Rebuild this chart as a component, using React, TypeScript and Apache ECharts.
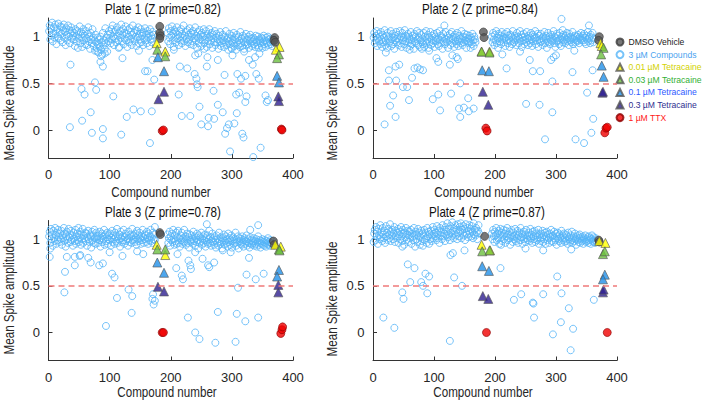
import React, { useEffect, useRef } from "react";
import * as echarts from "echarts";

// Values are in hundredths of "Mean Spike amplitude" (divided by 100 when building series)
// Dense band of compounds: segment A starts at compound 1, segment B starts at compound 195
const p1BandA = [106,112,97,109,101,115,95,104,110,99,113,103,92,108,100,114,98,105,111,96,
103,110,94,107,113,99,105,91,109,102,96,112,100,107,93,104,110,98,106,101,
97,104,90,108,100,95,106,88,102,98,111,93,105,99,89,103,108,96,101,92,
106,98,91,103,110,95,100,87,104,97,93,108,99,90,96,85,102,94,88,99,
92,83,97,89,100,86,94,81,104,91,96,87,109,93,99,84,102,95,106,98,
103,93,108,97,112,100,91,105,98,107,94,110,101,96,104,89,106,99,113,95,
102,108,92,104,98,111,96,103,89,107,100,94,109,97,105,91,102,112,98,104,
95,107,100,90,106,99,110,93,103,97,108,94,101,105,91,104,98,109,96,102,
93,106,99,103,90,108,97,101,94,105,98,102];
const p1BandB = [104,95,109,99,92,106,101,111,96,103,89,107,99,105,94,110,98,102,91,106,
100,96,108,93,103,99,112,95,101,90,105,98,107,94,102,97,109,92,104,100,
95,106,91,103,98,110,96,101,88,105,99,93,107,97,102,90,104,96,100,108,
93,101,97,106,89,103,95,99,108,92,100,96,104,88,102,98,94,106,91,99,
103,94,97,87,101,95,105,90,98,93,102,96,89,100,94,106,91,97,99,86,
95,103,92,98,88,101,96,93,104,90,97,99,86,102,94,91,100,96,89,105,
93,98,90,101,95,87,99,94,103,91,97,92,100,88,96,102,93,98,90,95,
99,92,97,89,101,94,96,91,100,88,97,95,93,99,
90,98,94,101,92,96,89,99,95,93,100,91,97,94,98,92,96,90,95,97];
const p1Outliers = [[36,70],[35,3],[54,44],[59,38],[55,10],[69,19],[71,-3],[76,51],[78,43],[89,1],[89,-9],[85,73],[89,68],[86,79],[92,82],[80,84],[106,36],[119,-5],[121,77],[128,14],[139,22],[151,20],[158,63],[162,63],[166,-14],[169,20],[173,54],[170,75],[148,85],[115,88],[215,68],[213,38],[218,15],[227,66],[232,15],[239,60],[242,55],[243,49],[244,46],[247,25],[250,6],[259,68],[261,4],[262,13],[271,12],[270,42],[277,27],[285,19],[288,59],[289,-4],[292,2],[295,6],[297,-23],[304,7],[307,38],[308,18],[312,40],[315,55],[309,60],[317,-4],[319,-8],[322,30],[322,58],[324,36],[335,-29],[340,60],[344,55],[347,-19],[355,37],[357,30],[359,32],[334,70],[328,75],[338,78],[301,80],[277,75],[205,86],[240,80],[245,82],[260,78],[255,87],[300,87],[320,84],[345,82],[350,88]];

const p2BandA = [99,104,93,101,96,106,90,98,103,95,100,92,105,97,89,102,94,99,107,91,
96,101,88,104,98,93,100,95,106,90,97,103,92,99,87,101,96,105,94,98,
102,91,97,106,93,100,89,104,96,99,92,107,95,101,88,98,103,94,100,97,
90,105,96,92,101,98,87,103,95,100,93,106,97,91,99,104,89,96,102,94,
98,92,104,89,100,95,106,93,97,102,88,99,94,105,91,97,101,93,96,103,
89,100,95,98,104,92,97,90,106,96,101,93,99,87,103,95,98,92,105,97,
94,101,88,99,96,103,91,98,105,93,97,100,89,102,95,99,92,104,96,90,
101,95,98,93,106,97,91,100,94,103,96,99,88,102,95,98,93,101,97,94,
99,92,103,96,90,100,97,94];
const p2BandB = [100,94,104,97,91,102,96,106,93,99,88,103,98,95,101,92,105,97,100,94,
98,103,90,99,96,105,93,101,97,89,102,95,100,92,106,98,94,101,96,99,
91,104,97,100,93,98,106,95,102,89,99,96,103,92,100,97,94,105,98,91,
101,96,99,93,104,97,90,102,95,100,98,106,92,99,96,103,89,101,97,94,
103,95,98,91,100,96,105,93,99,101,88,97,104,94,100,92,98,96,102,95,
97,106,93,100,89,98,103,95,101,96,92,104,98,90,100,97,94,102,96,99,
93,101,97,104,95,99,91,103,96,100,94,98,105,92,99,97,101,94,96,100,
95,102,98,93,100,97,104,96,99,101,
96,103,94,99,92,101,97,105,95,98,100,93,102,96,99,104,94,98];
const p2Outliers = [[19,6],[28,26],[26,53],[26,64],[37,68],[43,70],[38,53],[33,37],[37,14],[49,46],[56,46],[59,32],[68,66],[64,56],[77,65],[82,64],[73,67],[98,33],[107,38],[110,21],[104,77],[107,73],[126,70],[128,39],[130,80],[137,78],[139,76],[143,50],[141,23],[143,14],[149,24],[156,34],[157,20],[165,23],[21,83],[92,85],[117,112],[309,119],[311,107],[354,112],[219,66],[251,28],[262,63],[274,63],[273,27],[282,-10],[294,52],[294,19],[327,62],[332,-10],[346,-14],[351,40],[358,-3],[361,12],[360,64],[212,81],[241,84],[257,75],[292,75],[296,78],[300,80],[330,85],[80,87],[160,88],[60,86]];

const p3BandA = [103,108,96,111,100,105,93,109,101,98,112,104,95,107,99,110,102,97,106,100,
109,94,104,101,112,98,106,92,103,108,100,96,111,102,105,97,109,99,104,93,
107,101,98,110,95,103,106,99,112,97,102,108,94,105,100,111,96,104,101,107,
98,106,93,102,109,100,97,105,103,91,108,99,104,96,110,101,95,107,100,103,
96,104,99,108,92,101,106,97,103,100,110,94,105,98,102,107,95,100,104,99,
106,93,101,109,97,104,100,95,107,102,98,111,96,103,100,105,92,108,101,97,
103,99,110,95,102,106,98,104,100,93,108,101,97,105,103,96,111,99,104,100,
97,106,102,94,109,100,104,98,107,101,95,103,99,110,102,96,105,100,
104,97,108,101,95,106,99,103,110,98,102,96,107,100,105,99];
const p3BandB = [105,96,101,108,93,103,99,106,97,110,100,94,104,98,107,95,102,109,96,101,
92,104,99,107,95,101,97,110,98,103,94,100,106,96,102,91,105,99,97,104,
100,95,108,98,103,93,101,97,106,99,90,104,96,102,98,107,94,100,103,96,
99,105,92,101,97,104,95,100,109,96,102,93,98,106,97,101,94,103,99,91,
104,96,100,93,107,98,95,102,97,90,101,99,105,94,98,103,96,100,92,106,
97,101,94,99,104,91,98,102,95,100,96,107,93,99,97,103,90,101,98,95,
100,94,103,97,92,99,101,95,98,104,93,97,100,96,91,102,95,99,94,98,
96,101,93,98,95,100,92,97,103,94,99,96,91,98,95,100,94,97,
93,99,96,92,98,95,101,94,97,93,99,96,95,98];
const p3Outliers = [[2,81],[3,90],[27,65],[26,43],[30,81],[43,81],[51,82],[43,72],[52,83],[65,80],[69,75],[83,72],[89,74],[94,7],[104,63],[108,59],[112,37],[121,82],[131,46],[137,39],[136,21],[155,84],[170,36],[171,41],[174,34],[172,30],[211,84],[209,69],[218,61],[220,57],[229,77],[232,72],[233,68],[228,16],[240,0],[247,-7],[252,79],[261,72],[263,70],[271,75],[273,-11],[277,22],[298,86],[306,-10],[308,20],[310,48],[322,12],[324,62],[328,80],[339,57],[343,16],[352,63],[174,113],[259,116],[343,115],[330,110],[100,86],[145,87],[240,86],[285,88]];

const p4BandA = [97,106,110,99,113,103,108,95,111,104,100,115,102,107,98,112,105,101,109,96,
114,103,107,99,111,105,101,116,98,108,104,110,100,106,113,97,109,103,107,101,
111,96,105,108,100,113,103,98,110,106,94,107,102,112,99,105,109,97,104,108,
101,110,95,106,103,99,112,104,92,108,100,105,97,111,103,107,94,102,109,98,
106,93,104,110,99,107,101,96,112,103,108,95,105,100,109,98,104,113,101,106,
110,103,107,99,114,105,101,109,96,112,104,107,100,115,103,110,106,98,113,104,
108,117,102,111,105,99,114,107,103,118,109,101,112,106,115,104,110,100,116,107,
103,113,108,117,101,110,106,114,104,111,99,116,107,105,112,102,109,115,
106,111,103,114,108,101,117,105,110,104,112,107,100,109,115,106];
const p4BandB = [106,100,110,103,97,108,104,112,99,106,101,109,95,105,111,102,107,98,104,110,
100,106,96,109,103,112,99,105,101,108,94,104,110,102,97,107,103,100,111,98,
105,101,109,96,104,107,99,112,102,106,95,103,108,100,105,97,110,101,104,99,
107,103,98,111,101,105,96,108,103,100,109,97,104,106,99,102,110,95,105,101,
98,106,102,109,97,104,100,107,95,103,108,99,105,101,96,106,102,110,98,103,
104,97,108,101,99,106,94,103,107,100,98,105,102,96,109,101,104,99,106,97,
101,105,98,103,95,107,100,102,97,104,99,108,96,101,103,98,106,100,94,102,
99,104,97,101,105,96,102,100,98,103,95,101,99,104,97,100,98,102,
96,103,99,101,95,100,104,98,97,102,99,96,101,98];
const p4Outliers = [[17,16],[35,5],[48,43],[50,36],[57,73],[68,69],[61,54],[79,54],[82,50],[86,63],[92,60],[89,42],[126,-9],[133,59],[127,83],[131,85],[146,50],[209,69],[231,35],[243,41],[262,32],[263,31],[264,16],[279,41],[295,-2],[302,60],[309,42],[308,11],[321,26],[324,-19],[328,4],[362,35],[279,88],[325,89],[250,90],[150,88],[48,92],[210,94]];

// Controls: [compound number, amplitude*100]
const p1Dmso = [[182,111],[182,104],[183,101],[182,98],[370,99],[369,96],[371,94]];
const p2Dmso = [[181,105],[182,99],[371,100],[370,96]];
const p3Dmso = [[182,107],[183,105],[368,98],[369,94]];
const p4Dmso = [[183,103],[370,99],[371,97]];

const p1T001 = [[177,93],[191,84],[378,89],[372,86]];
const p2T001 = [[178,84],[191,84],[373,93],[375,90]];
const p3T001 = [[177,94],[191,83],[371,94],[380,92]];
const p4T001 = [[178,94],[192,88],[371,98],[381,96]];

const p1T003 = [[178,86],[191,79],[377,81],[374,77]];
const p2T003 = [[178,84],[191,83],[378,88],[374,81]];
const p3T003 = [[178,89],[191,89],[377,89],[378,88]];
const p4T003 = [[179,87],[191,88],[377,84],[380,87]];

const p1T01 = [[179,78],[189,63],[374,58],[377,51]];
const p2T01 = [[179,64],[190,63],[375,69],[378,57]];
const p3T01 = [[178,75],[189,64],[377,67],[374,60]];
const p4T01 = [[179,71],[190,66],[380,62],[377,57]];

const p1T03 = [[180,33],[189,41],[376,36],[377,31]];
const p2T03 = [[180,41],[189,27],[376,40],[377,41]];
const p3T03 = [[179,49],[189,44],[376,51],[376,43]];
const p4T03 = [[180,39],[189,36],[377,43],[378,46]];

const p1Ttx = [[186,-1],[188,0],[381,1],[382,0]];
const p2Ttx = [[185,2],[187,-1],[380,-3],[382,2],[384,3]];
const p3Ttx = [[186,0],[188,0],[380,-1],[382,3],[383,6]];
const p4Ttx = [[186,0],[384,0]];

const plateTitles = ["Plate 1 (Z prime=0.82)", "Plate 2 (Z prime=0.84)", "Plate 3 (Z prime=0.78)", "Plate 4 (Z prime=0.87)"];
const xTicks = [0, 100, 200, 300, 400];
const yTicks = [0, 0.5, 1];
const threshold = 0.5;
const seriesNames = ["DMSO Vehicle", "3 \u00b5M Compounds", "0.01 \u00b5M Tetracaine", "0.03 \u00b5M Tetracaine", "0.1 \u00b5M Tetracaine", "0.3 \u00b5M Tetracaine", "1 \u00b5M TTX"];

const FONT = "'Liberation Sans', Arial, Helvetica, sans-serif";

const plates = [
  { bandA: p1BandA, bandB: p1BandB, out: p1Outliers, dmso: p1Dmso, t001: p1T001, t003: p1T003, t01: p1T01, t03: p1T03, ttx: p1Ttx },
  { bandA: p2BandA, bandB: p2BandB, out: p2Outliers, dmso: p2Dmso, t001: p2T001, t003: p2T003, t01: p2T01, t03: p2T03, ttx: p2Ttx },
  { bandA: p3BandA, bandB: p3BandB, out: p3Outliers, dmso: p3Dmso, t001: p3T001, t003: p3T003, t01: p3T01, t03: p3T03, ttx: p3Ttx },
  { bandA: p4BandA, bandB: p4BandB, out: p4Outliers, dmso: p4Dmso, t001: p4T001, t003: p4T003, t01: p4T01, t03: p4T03, ttx: p4Ttx },
];

const toPts = (arr: number[][]) => arr.map(([x, v]) => [x, v / 100]);

export default function App() {
  const ref = useRef<HTMLDivElement>(null);
  useEffect(() => {
    if (!ref.current) return;
    const chart = echarts.init(ref.current, null, { renderer: "svg" });
    const grids = [
      { left: 48.5, top: 18, width: 244.5, height: 140 },
      { left: 373, top: 18, width: 244, height: 140 },
      { left: 48.5, top: 220.5, width: 244.5, height: 140 },
      { left: 373, top: 220.5, width: 244, height: 140 },
    ];
    const axisColor = "#333333";
    const xAxes = grids.map((_, i) => ({
      type: "value", gridIndex: i, min: xTicks[0], max: xTicks[xTicks.length - 1], interval: 100,
      axisLine: { show: true, onZero: false, lineStyle: { color: axisColor, width: 1 } },
      axisTick: { show: true, inside: true, length: 4, lineStyle: { color: axisColor } },
      axisLabel: { color: "#262626", fontSize: 13, fontFamily: FONT, margin: 10 },
      splitLine: { show: false },
    }));
    const yAxes = grids.map((_, i) => ({
      type: "value", gridIndex: i, min: -0.3, max: 1.2,
      axisLine: { show: true, onZero: false, lineStyle: { color: axisColor, width: 1 } },
      axisTick: { show: true, inside: true, length: 4, customValues: yTicks, lineStyle: { color: axisColor } },
      axisLabel: { color: "#262626", fontSize: 13, fontFamily: FONT, margin: 8.5, customValues: yTicks, formatter: (v: number) => String(v) },
      splitLine: { show: false },
    }));

    const series: any[] = [];
    plates.forEach((p, i) => {
      const comp: number[][] = [];
      p.bandA.forEach((v, k) => comp.push([1 + k, v / 100]));
      p.bandB.forEach((v, k) => comp.push([195 + k, v / 100]));
      toPts(p.out).forEach((d) => comp.push(d));
      series.push({
        name: seriesNames[1], type: "scatter", xAxisIndex: i, yAxisIndex: i, symbol: "circle", symbolSize: 7,
        itemStyle: { color: "rgba(255,255,255,0)", borderColor: "#55b4f8", borderWidth: 1 },
        data: comp, z: 2,
        markLine: {
          silent: true, symbol: "none", label: { show: false },
          lineStyle: { color: "#f07a7a", type: [6, 4], width: 1.5 },
          data: [{ yAxis: threshold }],
        },
      });
      const ctrl = (name: string, data: number[][], symbol: string, size: number, color: string, border: string) => ({
        name, type: "scatter", xAxisIndex: i, yAxisIndex: i, symbol, symbolSize: size,
        itemStyle: { color, borderColor: border, borderWidth: 0.8 }, data: toPts(data), z: 3,
      });
      series.push(ctrl(seriesNames[0], p.dmso, "circle", 8, "#555555", "#3a3a3a"));
      series.push(ctrl(seriesNames[2], p.t001, "triangle", 9, "#ffff00", "#555555"));
      series.push(ctrl(seriesNames[3], p.t003, "triangle", 9, "#6cbf3f", "#555555"));
      series.push(ctrl(seriesNames[4], p.t01, "triangle", 9, "#2090e8", "#555555"));
      series.push(ctrl(seriesNames[5], p.t03, "triangle", 9, "#2e1f90", "#555555"));
      series.push(ctrl(seriesNames[6], p.ttx, "circle", 8, "#f00000", "#8a0000"));
    });

    const legendColors = ["#222222", "#4aa3ef", "#d2d200", "#33b033", "#2e5bff", "#2f2f8f", "#ff1a1a"];

    const titlePos = [[163, 9], [480, 9], [163, 212], [487, 212]];
    const xNamePos = [[161, 192], [484, 192], [167, 392], [483, 392]];
    const yNamePos = [[9, 103], [332, 103], [9, 297], [332, 299]];
    const graphics: any[] = [];
    const txt = (x: number, y: number, text: string, fill: string, rotation = 0) => ({
      type: "text", x, y, rotation, scaleX: 0.83,
      style: { text, font: `14px ${FONT}`, fill, align: "center", verticalAlign: "middle" },
    });
    titlePos.forEach(([x, y], i) => graphics.push(txt(x, y, plateTitles[i], "#111111")));
    xNamePos.forEach(([x, y]) => graphics.push(txt(x, y, "Compound number", "#262626")));
    yNamePos.forEach(([x, y]) => graphics.push(txt(x, y, "Mean Spike amplitude", "#262626", Math.PI / 2)));

    chart.setOption({
      animation: false,
      backgroundColor: "#ffffff",
      grid: grids,
      xAxis: xAxes,
      yAxis: yAxes,
      legend: {
        orient: "vertical", left: 615.5, top: 37.5, padding: 0, itemWidth: 7, itemHeight: 7, itemGap: 3.6, itemTextGap: 8.5,
        selectedMode: false,
        textStyle: { fontSize: 8.6, fontFamily: FONT, lineHeight: 9 },
        data: seriesNames.map((n, k) => ({ name: n, textStyle: { color: legendColors[k] } })),
      },
      graphic: graphics,
      series,
    });
    return () => chart.dispose();
  }, []);
  return <div ref={ref} style={{ position: "fixed", left: 0, top: 0, width: 708, height: 402 }} />;
}
